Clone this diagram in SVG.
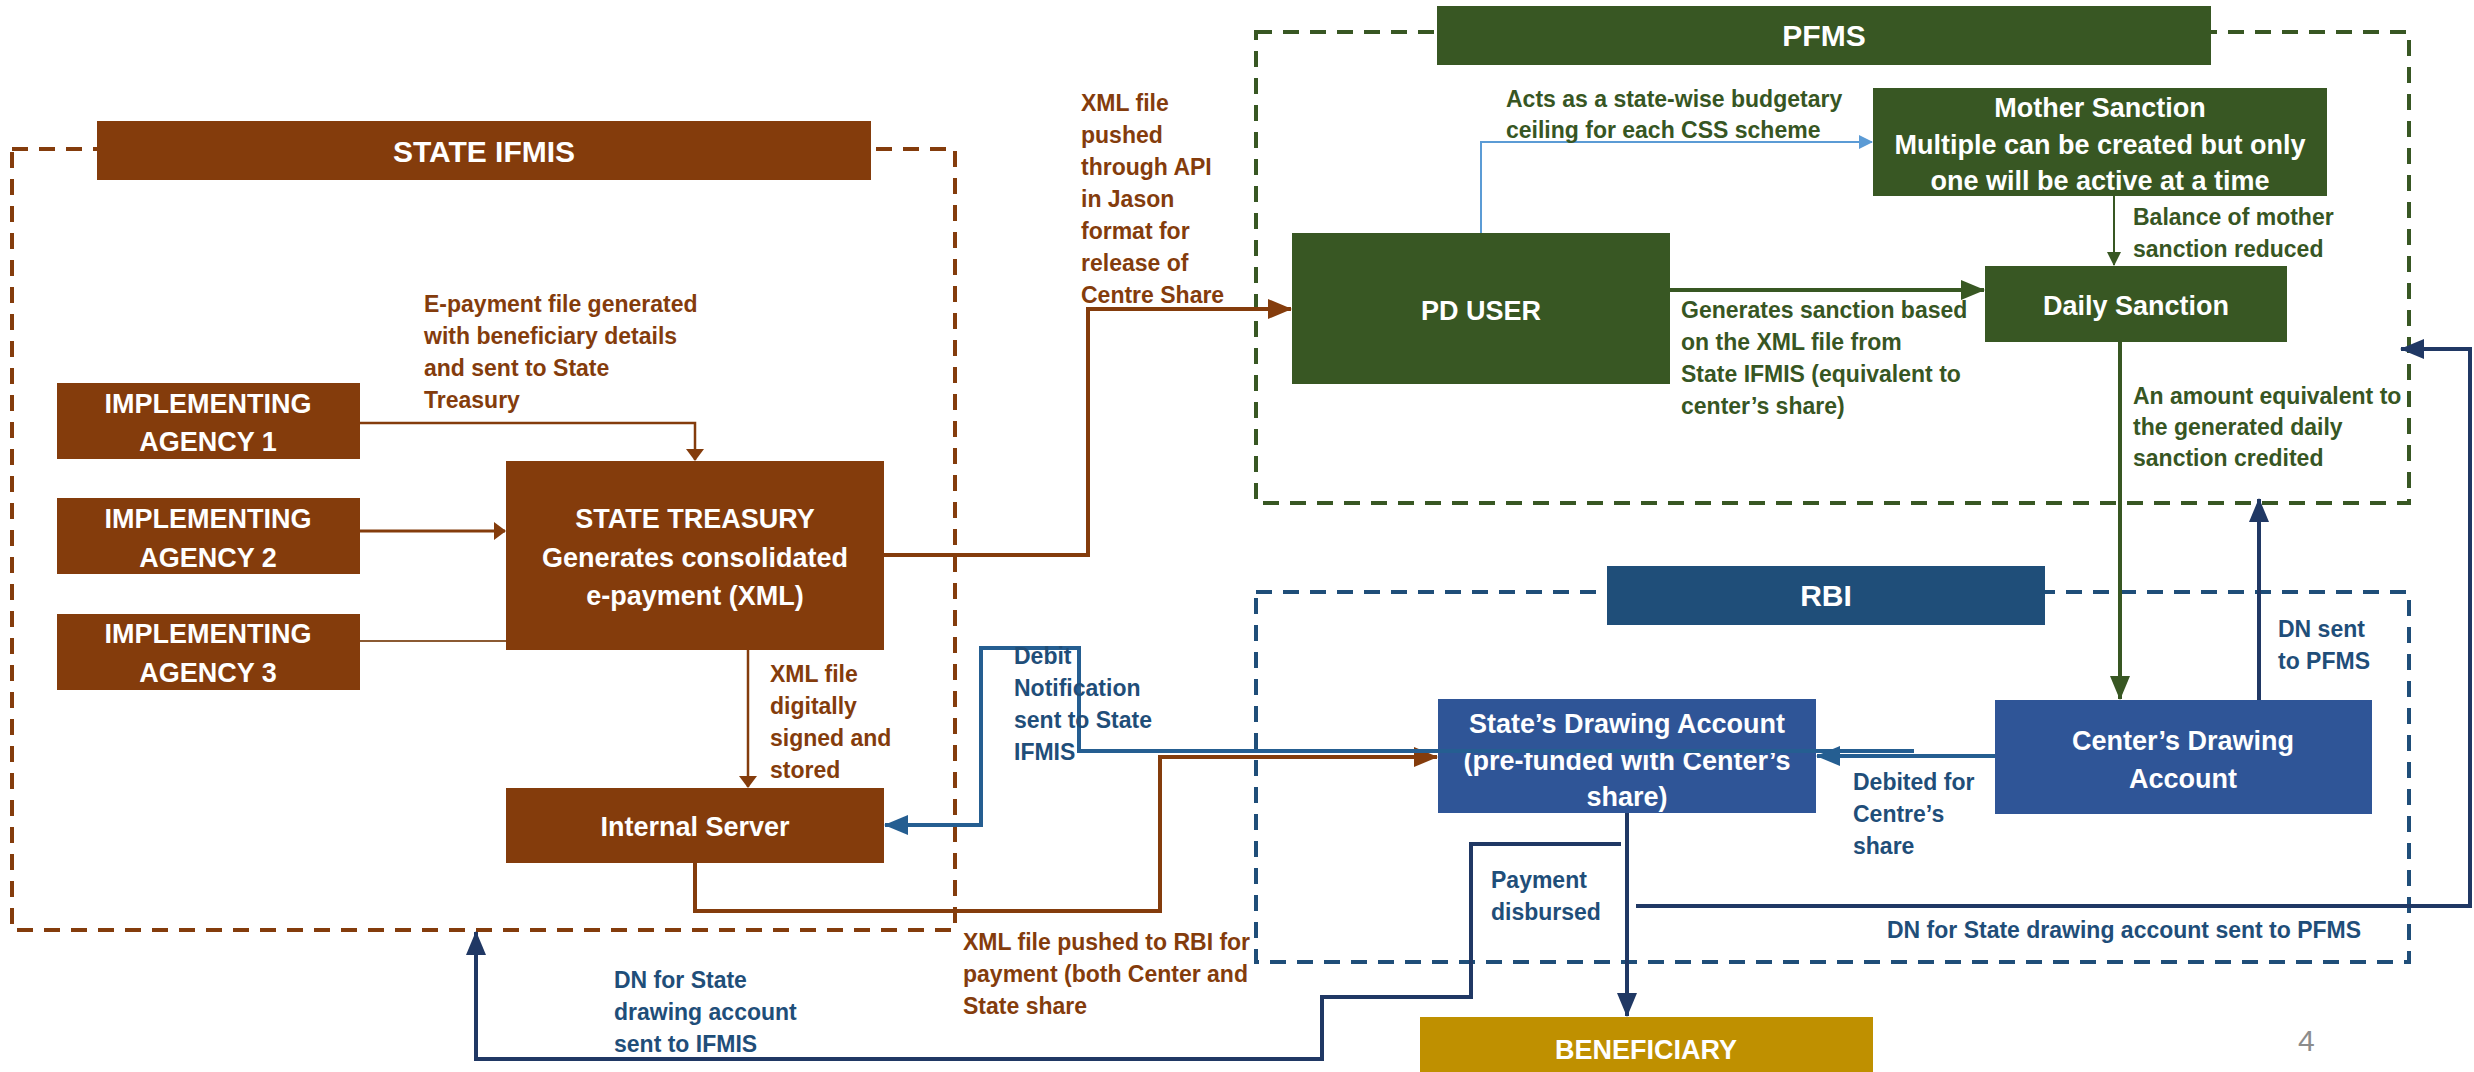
<svg xmlns="http://www.w3.org/2000/svg" width="2474" height="1072" viewBox="0 0 2474 1072">
<style>
text{font-family:"Liberation Sans",Arial,sans-serif;font-weight:bold}
.nt{font-size:27px;fill:#fff;text-anchor:middle}
.hd{font-size:30px;fill:#fff;text-anchor:middle}
.lb{font-size:23px}
.br{fill:#843C0C}.gr{fill:#375623}.bl{fill:#1F4E79}.nv{fill:#203864}
.cb{fill:none;stroke-width:4;stroke-dasharray:16 11}
.c{fill:none}
</style>
<defs>
<marker id="abL" viewBox="0 0 24 20" refX="23" refY="10" markerWidth="24" markerHeight="20" markerUnits="userSpaceOnUse" orient="auto"><path d="M0,0 L24,10 L0,20 z" fill="#843C0C"/></marker>
<marker id="abS" viewBox="0 0 12 18" refX="11" refY="9" markerWidth="12" markerHeight="18" markerUnits="userSpaceOnUse" orient="auto"><path d="M0,0 L12,9 L0,18 z" fill="#843C0C"/></marker>
<marker id="agL" viewBox="0 0 24 20" refX="23" refY="10" markerWidth="24" markerHeight="20" markerUnits="userSpaceOnUse" orient="auto"><path d="M0,0 L24,10 L0,20 z" fill="#385723"/></marker>
<marker id="agS" viewBox="0 0 14 14" refX="13" refY="7" markerWidth="14" markerHeight="14" markerUnits="userSpaceOnUse" orient="auto"><path d="M0,0 L14,7 L0,14 z" fill="#385723"/></marker>
<marker id="anL" viewBox="0 0 24 20" refX="23" refY="10" markerWidth="24" markerHeight="20" markerUnits="userSpaceOnUse" orient="auto"><path d="M0,0 L24,10 L0,20 z" fill="#203864"/></marker>
<marker id="abuL" viewBox="0 0 24 20" refX="23" refY="10" markerWidth="24" markerHeight="20" markerUnits="userSpaceOnUse" orient="auto"><path d="M0,0 L24,10 L0,20 z" fill="#255E91"/></marker>
<marker id="alt" viewBox="0 0 14 14" refX="13" refY="7" markerWidth="14" markerHeight="14" markerUnits="userSpaceOnUse" orient="auto"><path d="M0,0 L14,7 L0,14 z" fill="#5B9BD5"/></marker>
</defs>
<rect width="2474" height="1072" fill="#fff"/>

<!-- containers -->
<g id="state-ifmis">
<rect class="cb" x="12" y="149" width="943" height="781" stroke="#843C0C"/>
<rect x="97" y="121" width="774" height="59" fill="#843C0C"/>
<text class="hd" x="484" y="162">STATE IFMIS</text>
</g>
<g id="pfms">
<rect class="cb" x="1256" y="32" width="1153" height="471" stroke="#385723"/>
<rect x="1437" y="6" width="774" height="59" fill="#385723"/>
<text class="hd" x="1824" y="46">PFMS</text>
</g>
<g id="rbi">
<rect class="cb" x="1256" y="592" width="1153" height="370" stroke="#1F4E79"/>
<rect x="1607" y="566" width="438" height="59" fill="#1F4E79"/>
<text class="hd" x="1826" y="606">RBI</text>
</g>

<!-- nodes -->
<g id="ia1"><rect x="57" y="383" width="303" height="76" fill="#843C0C"/><text class="nt" x="208" y="413">IMPLEMENTING</text><text class="nt" x="208" y="451">AGENCY 1</text></g>
<g id="ia2"><rect x="57" y="498" width="303" height="76" fill="#843C0C"/><text class="nt" x="208" y="528">IMPLEMENTING</text><text class="nt" x="208" y="567">AGENCY 2</text></g>
<g id="ia3"><rect x="57" y="614" width="303" height="76" fill="#843C0C"/><text class="nt" x="208" y="643">IMPLEMENTING</text><text class="nt" x="208" y="682">AGENCY 3</text></g>
<g id="treasury"><rect x="506" y="461" width="378" height="189" fill="#843C0C"/><text class="nt" x="695" y="528">STATE TREASURY</text><text class="nt" x="695" y="567">Generates consolidated</text><text class="nt" x="695" y="605">e-payment (XML)</text></g>
<g id="internal-server"><rect x="506" y="788" width="378" height="75" fill="#843C0C"/><text class="nt" x="695" y="836">Internal Server</text></g>
<g id="pd-user"><rect x="1292" y="233" width="378" height="151" fill="#385723"/><text class="nt" x="1481" y="320">PD USER</text></g>
<g id="mother-sanction"><rect x="1873" y="88" width="454" height="108" fill="#385723"/><text class="nt" x="2100" y="117">Mother Sanction</text><text class="nt" x="2100" y="154">Multiple can be created but only</text><text class="nt" x="2100" y="190">one will be active at a time</text></g>
<g id="daily-sanction"><rect x="1985" y="266" width="302" height="76" fill="#385723"/><text class="nt" x="2136" y="315">Daily Sanction</text></g>
<g id="state-drawing"><rect x="1438" y="699" width="378" height="114" fill="#2F5597"/><text class="nt" x="1627" y="733">State’s Drawing Account</text><text class="nt" x="1627" y="770">(pre-funded with Center’s</text><text class="nt" x="1627" y="806">share)</text></g>
<g id="center-drawing"><rect x="1995" y="700" width="377" height="114" fill="#2F5597"/><text class="nt" x="2183" y="750">Center’s Drawing</text><text class="nt" x="2183" y="788">Account</text></g>
<g id="beneficiary"><rect x="1420" y="1017" width="453" height="60" fill="#BF9000"/><text class="nt" x="1646" y="1059">BENEFICIARY</text></g>

<!-- connectors -->
<g id="connectors">
<path class="c" d="M360,423 H695 V460" stroke="#843C0C" stroke-width="2.5" marker-end="url(#abS)"/>
<path class="c" d="M360,531 H505" stroke="#843C0C" stroke-width="3" marker-end="url(#abS)"/>
<path class="c" d="M360,641 H506" stroke="#8B5A32" stroke-width="2"/>
<path class="c" d="M748,650 V787" stroke="#843C0C" stroke-width="2.5" marker-end="url(#abS)"/>
<path class="c" d="M884,555 H1088 V309 H1291" stroke="#843C0C" stroke-width="4" marker-end="url(#abL)"/>
<path class="c" d="M695,863 V911 H1160 V757 H1437" stroke="#843C0C" stroke-width="4" marker-end="url(#abL)"/>
<path class="c" d="M1914,751 H1079 V648 H981 V825 H885" stroke="#255E91" stroke-width="4" marker-end="url(#abuL)"/>
<path class="c" d="M1481,233 V142 H1872" stroke="#5B9BD5" stroke-width="2" marker-end="url(#alt)"/>
<path class="c" d="M1670,290 H1984" stroke="#385723" stroke-width="4" marker-end="url(#agL)"/>
<path class="c" d="M2114,196 V265" stroke="#385723" stroke-width="2" marker-end="url(#agS)"/>
<path class="c" d="M2120,342 V699" stroke="#385723" stroke-width="4" marker-end="url(#agL)"/>
<path class="c" d="M2259,700 V499" stroke="#203864" stroke-width="4" marker-end="url(#anL)"/>
<path class="c" d="M1995,756 H1817" stroke="#255E91" stroke-width="4" marker-end="url(#abuL)"/>
<path class="c" d="M1627,813 V1016" stroke="#203864" stroke-width="4" marker-end="url(#anL)"/>
<path class="c" d="M1636,906 H2470 V349 H2401" stroke="#203864" stroke-width="4" marker-end="url(#anL)"/>
<path class="c" d="M1621,844 H1471 V997 H1322 V1059 H476 V932" stroke="#203864" stroke-width="4" marker-end="url(#anL)"/>
</g>

<!-- labels -->
<g id="labels" class="lb">
<text class="br" x="424" y="312">E-payment file generated</text>
<text class="br" x="424" y="344">with beneficiary details</text>
<text class="br" x="424" y="376">and sent to State</text>
<text class="br" x="424" y="408">Treasury</text>
<text class="br" x="1081" y="111">XML file</text>
<text class="br" x="1081" y="143">pushed</text>
<text class="br" x="1081" y="175">through API</text>
<text class="br" x="1081" y="207">in Jason</text>
<text class="br" x="1081" y="239">format for</text>
<text class="br" x="1081" y="271">release of</text>
<text class="br" x="1081" y="303">Centre Share</text>
<text class="br" x="770" y="682">XML file</text>
<text class="br" x="770" y="714">digitally</text>
<text class="br" x="770" y="746">signed and</text>
<text class="br" x="770" y="778">stored</text>
<text class="bl" x="1014" y="664">Debit</text>
<text class="bl" x="1014" y="696">Notification</text>
<text class="bl" x="1014" y="728">sent to State</text>
<text class="bl" x="1014" y="760">IFMIS</text>
<text class="br" x="963" y="950">XML file pushed to RBI for</text>
<text class="br" x="963" y="982">payment (both Center and</text>
<text class="br" x="963" y="1014">State share</text>
<text class="bl" x="614" y="988">DN for State</text>
<text class="bl" x="614" y="1020">drawing account</text>
<text class="bl" x="614" y="1052">sent to IFMIS</text>
<text class="bl" x="1491" y="888">Payment</text>
<text class="bl" x="1491" y="920">disbursed</text>
<text class="gr" x="1506" y="107">Acts as a state-wise budgetary</text>
<text class="gr" x="1506" y="138">ceiling for each CSS scheme</text>
<text class="gr" x="1681" y="318">Generates sanction based</text>
<text class="gr" x="1681" y="350">on the XML file from</text>
<text class="gr" x="1681" y="382">State IFMIS (equivalent to</text>
<text class="gr" x="1681" y="414">center’s share)</text>
<text class="gr" x="2133" y="225">Balance of mother</text>
<text class="gr" x="2133" y="257">sanction reduced</text>
<text class="gr" x="2133" y="404">An amount equivalent to</text>
<text class="gr" x="2133" y="435">the generated daily</text>
<text class="gr" x="2133" y="466">sanction credited</text>
<text class="bl" x="2278" y="637">DN sent</text>
<text class="bl" x="2278" y="669">to PFMS</text>
<text class="bl" x="1853" y="790">Debited for</text>
<text class="bl" x="1853" y="822">Centre’s</text>
<text class="bl" x="1853" y="854">share</text>
<text class="bl" x="1887" y="938">DN for State drawing account sent to PFMS</text>
</g>
<text x="2298" y="1051" style="font-weight:normal;font-size:30px;fill:#8C8C8C">4</text>
</svg>
